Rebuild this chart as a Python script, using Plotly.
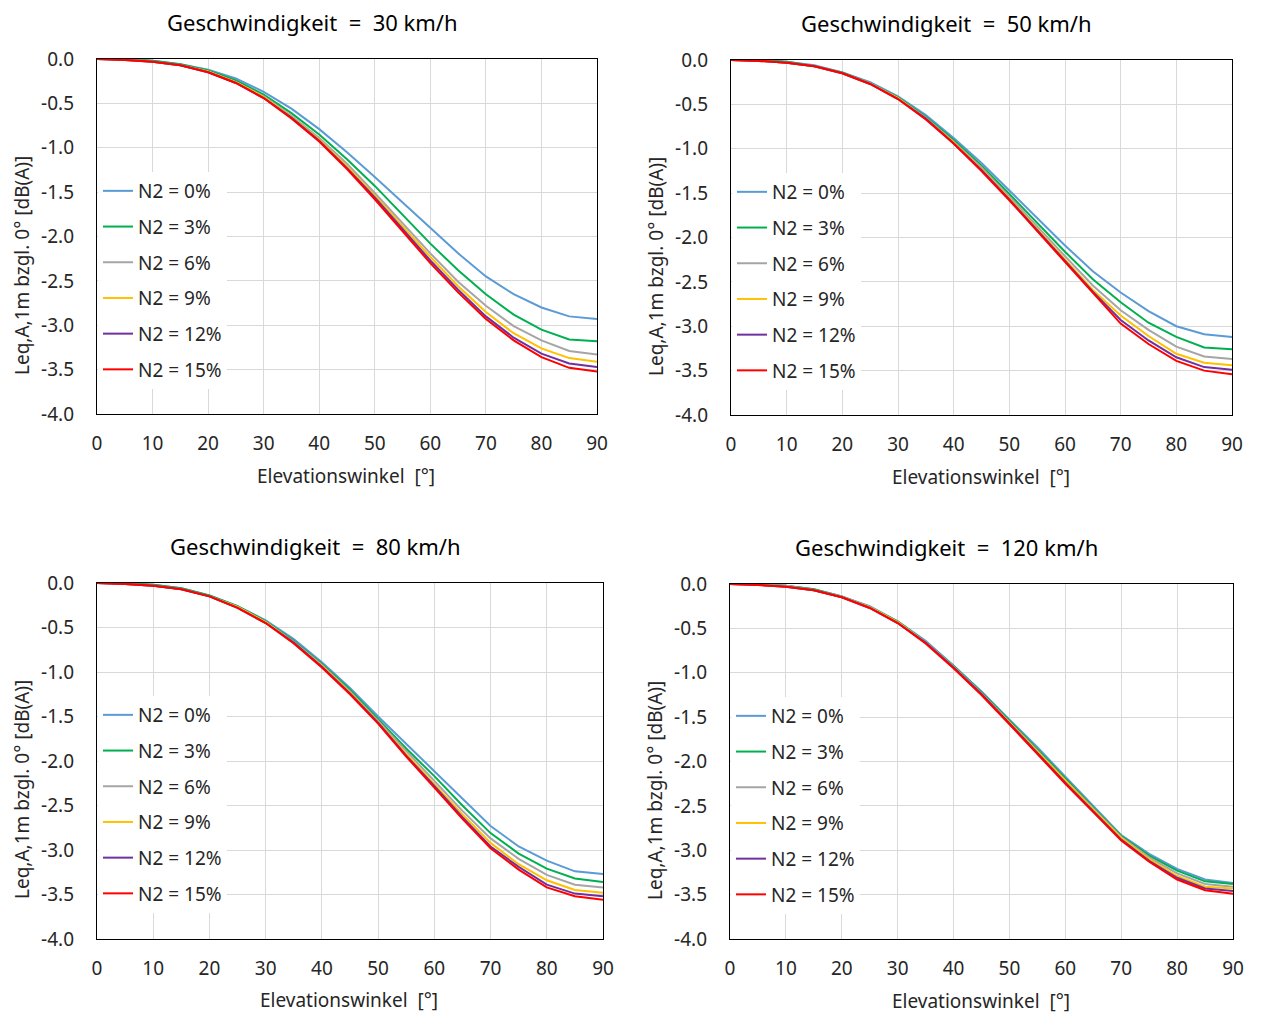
import plotly.graph_objects as go

W, H = 1261, 1014

angles = [0, 5, 10, 15, 20, 25, 30, 35, 40, 45, 50, 55, 60, 65, 70, 75, 80, 85, 90]
n2_labels = ["N2 = 0%", "N2 = 3%", "N2 = 6%", "N2 = 9%", "N2 = 12%", "N2 = 15%"]
n2_colors = ["#5B9BD5", "#00B050", "#A5A5A5", "#FFC000", "#7030A0", "#FF0000"]
speeds = ["30", "50", "80", "120"]

# Pegeländerung relativ zu 0° je Geschwindigkeit, Reihen N2 = 0 ... 15 %
v30 = [
    [0, 0, -0.02, -0.06, -0.12, -0.22, -0.37, -0.56, -0.79, -1.05, -1.33, -1.62, -1.91, -2.19, -2.45, -2.65, -2.80, -2.90, -2.93],
    [0, 0, -0.02, -0.06, -0.13, -0.24, -0.40, -0.61, -0.85, -1.13, -1.43, -1.76, -2.08, -2.38, -2.65, -2.88, -3.05, -3.16, -3.18],
    [0, 0, -0.03, -0.07, -0.14, -0.26, -0.42, -0.64, -0.89, -1.18, -1.51, -1.85, -2.19, -2.51, -2.78, -3.01, -3.17, -3.29, -3.33],
    [0, -0.01, -0.03, -0.07, -0.14, -0.26, -0.43, -0.65, -0.91, -1.21, -1.54, -1.89, -2.23, -2.56, -2.85, -3.09, -3.26, -3.37, -3.41],
    [0, -0.01, -0.03, -0.07, -0.15, -0.27, -0.44, -0.66, -0.92, -1.23, -1.56, -1.91, -2.27, -2.60, -2.90, -3.14, -3.32, -3.43, -3.47],
    [0, -0.01, -0.03, -0.07, -0.15, -0.27, -0.44, -0.67, -0.93, -1.24, -1.58, -1.94, -2.30, -2.63, -2.93, -3.17, -3.36, -3.48, -3.52],
]
v50 = [
    [0, 0, -0.02, -0.06, -0.14, -0.25, -0.41, -0.62, -0.88, -1.16, -1.47, -1.78, -2.09, -2.38, -2.62, -2.83, -3.00, -3.09, -3.12],
    [0, 0, -0.02, -0.07, -0.14, -0.26, -0.42, -0.64, -0.90, -1.19, -1.51, -1.84, -2.16, -2.47, -2.73, -2.96, -3.12, -3.24, -3.26],
    [0, -0.01, -0.03, -0.07, -0.15, -0.26, -0.43, -0.65, -0.92, -1.21, -1.54, -1.88, -2.21, -2.54, -2.82, -3.04, -3.23, -3.34, -3.37],
    [0, -0.01, -0.03, -0.07, -0.15, -0.27, -0.43, -0.66, -0.93, -1.23, -1.56, -1.90, -2.25, -2.59, -2.88, -3.11, -3.31, -3.41, -3.44],
    [0, -0.01, -0.03, -0.07, -0.15, -0.27, -0.44, -0.66, -0.94, -1.24, -1.57, -1.92, -2.27, -2.61, -2.93, -3.16, -3.35, -3.46, -3.49],
    [0, -0.01, -0.03, -0.07, -0.15, -0.27, -0.44, -0.67, -0.94, -1.25, -1.58, -1.93, -2.28, -2.63, -2.97, -3.20, -3.39, -3.50, -3.54],
]
v80 = [
    [0, 0, -0.02, -0.06, -0.14, -0.26, -0.42, -0.63, -0.89, -1.18, -1.50, -1.81, -2.12, -2.42, -2.73, -2.96, -3.12, -3.24, -3.27],
    [0, 0, -0.02, -0.06, -0.14, -0.26, -0.43, -0.65, -0.91, -1.20, -1.53, -1.86, -2.17, -2.50, -2.81, -3.04, -3.21, -3.32, -3.36],
    [0, -0.01, -0.03, -0.07, -0.15, -0.27, -0.44, -0.66, -0.92, -1.22, -1.55, -1.89, -2.22, -2.56, -2.87, -3.10, -3.28, -3.39, -3.42],
    [0, -0.01, -0.03, -0.07, -0.15, -0.27, -0.44, -0.67, -0.93, -1.23, -1.56, -1.92, -2.26, -2.60, -2.92, -3.16, -3.34, -3.45, -3.48],
    [0, -0.01, -0.03, -0.07, -0.15, -0.28, -0.45, -0.67, -0.94, -1.24, -1.57, -1.94, -2.28, -2.63, -2.96, -3.19, -3.39, -3.49, -3.52],
    [0, -0.01, -0.03, -0.07, -0.15, -0.28, -0.45, -0.68, -0.95, -1.25, -1.58, -1.95, -2.30, -2.65, -2.98, -3.22, -3.42, -3.52, -3.56],
]
v120 = [
    [0, 0, -0.02, -0.06, -0.14, -0.25, -0.42, -0.64, -0.92, -1.21, -1.53, -1.84, -2.17, -2.50, -2.83, -3.04, -3.21, -3.33, -3.37],
    [0, 0, -0.02, -0.06, -0.14, -0.26, -0.42, -0.65, -0.92, -1.22, -1.54, -1.86, -2.19, -2.52, -2.84, -3.06, -3.23, -3.35, -3.38],
    [0, -0.01, -0.02, -0.07, -0.14, -0.26, -0.43, -0.65, -0.93, -1.23, -1.55, -1.88, -2.21, -2.53, -2.85, -3.08, -3.26, -3.38, -3.41],
    [0, -0.01, -0.03, -0.07, -0.15, -0.26, -0.43, -0.66, -0.94, -1.24, -1.56, -1.89, -2.22, -2.54, -2.86, -3.10, -3.29, -3.41, -3.43],
    [0, -0.01, -0.03, -0.07, -0.15, -0.27, -0.44, -0.66, -0.94, -1.24, -1.57, -1.91, -2.24, -2.56, -2.88, -3.12, -3.31, -3.43, -3.46],
    [0, -0.01, -0.03, -0.07, -0.15, -0.27, -0.44, -0.67, -0.95, -1.25, -1.58, -1.92, -2.25, -2.57, -2.89, -3.13, -3.33, -3.45, -3.49],
]
panel_values = [v30, v50, v80, v120]

x_ticks = [0, 10, 20, 30, 40, 50, 60, 70, 80, 90]
y_ticks = [0.0, -0.5, -1.0, -1.5, -2.0, -2.5, -3.0, -3.5, -4.0]
y_ticktext = ["0.0", "-0.5", "-1.0", "-1.5", "-2.0", "-2.5", "-3.0", "-3.5", "-4.0"]
x_title = "Elevationswinkel\u00a0 [°]"
y_title = "Leq,A,1m bzgl. 0° [dB(A)]"

FONT = "Noto Sans"
TXT = "#262626"
FS = 19

# plot boxes in pixels: (left, top, right, bottom)
boxes = [(97, 59, 597, 414), (731, 60, 1232, 415), (97, 583, 603, 939), (730, 584, 1233, 939)]


def px(x):
    return x / W


def py(y):
    return 1 - y / H


fig = go.Figure()
layout = dict(
    width=W, height=H, margin=dict(l=0, r=0, t=0, b=0, autoexpand=False),
    paper_bgcolor="white", plot_bgcolor="white",
    font=dict(family=FONT, color=TXT, size=FS),
    annotations=[],
)

for i, (spd, vals, box) in enumerate(zip(speeds, panel_values, boxes)):
    k = "" if i == 0 else str(i + 1)
    leg = "legend" + k
    for j, (lab, col, ys) in enumerate(zip(n2_labels, n2_colors, vals)):
        fig.add_trace(go.Scatter(
            x=angles, y=ys, mode="lines", name=lab,
            line=dict(color=col, width=2),
            xaxis="x" + k, yaxis="y" + k,
            legend=leg, legendgroup=f"{spd}_{j}",
        ))
    l, t, r, b = box
    axis_common = dict(
        showline=True, mirror=True, linecolor="black", linewidth=1.3,
        showgrid=True, gridcolor="#D9D9D9", gridwidth=1.3,
        zeroline=False, ticks="", tickfont=dict(size=FS, color=TXT, family=FONT),
        fixedrange=True, automargin=False,
    )
    layout["xaxis" + k] = dict(
        axis_common, domain=[px(l), px(r)], range=[0, 90],
        tickvals=x_ticks, anchor="y" + k, ticklabelstandoff=12,
    )
    layout["yaxis" + k] = dict(
        axis_common, domain=[py(b), py(t)], range=[-4, 0],
        tickvals=y_ticks, ticktext=y_ticktext, anchor="x" + k,
        ticklabelstandoff=18,
    )
    # legend inside the plot box, left side
    layout[leg] = dict(
        x=px(l + 1), y=py(t + 113), xanchor="left", yanchor="top",
        bgcolor="white", borderwidth=0, tracegroupgap=8,
        font=dict(size=FS, color=TXT, family=FONT), itemwidth=30,
    )
    cx = (l + r) / 2
    layout["annotations"] += [
        dict(text=f"Geschwindigkeit\u00a0 =\u00a0 {spd} km/h", x=px(cx - 35), y=py(t - 37),
             xref="paper", yref="paper", xanchor="center", yanchor="middle",
             showarrow=False, font=dict(size=22, color="black", family=FONT)),
        dict(text=x_title, x=px(cx - 1), y=py(t + 417), xref="paper", yref="paper",
             xanchor="center", yanchor="middle",
             showarrow=False, font=dict(size=FS, color=TXT, family=FONT)),
        dict(text=y_title, x=px(l - 75), y=py(t + 207), xref="paper", yref="paper",
             xanchor="center", yanchor="middle", showarrow=False, textangle=-90,
             font=dict(size=FS, color=TXT, family=FONT)),
    ]

fig.update_layout(**layout)
fig.write_html("out.html")
